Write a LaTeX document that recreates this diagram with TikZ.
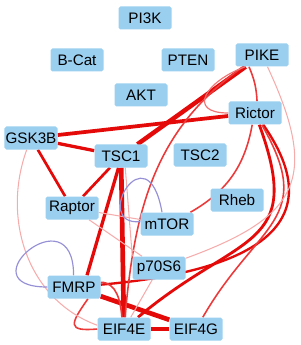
\documentclass[tikz,border=0pt]{standalone}
\usepackage{fontspec}
\setmainfont{Liberation Sans}
\usetikzlibrary{backgrounds}

\definecolor{genefill}{RGB}{155,207,240}
\definecolor{redstrong}{RGB}{228,10,10}
\definecolor{redmid}{RGB}{236,58,58}
\definecolor{redsoft}{RGB}{241,115,115}
\definecolor{redpale}{RGB}{247,172,172}
\definecolor{loopviolet}{RGB}{150,145,215}

\begin{document}
\begin{tikzpicture}[x=0.03cm,y=-0.03cm,
  gene/.style={fill=genefill,rounded corners=1.5pt,minimum width=1.59cm,minimum height=0.69cm,inner sep=0pt,font=\fontsize{13}{15}\selectfont},
  bond/.style={draw=redstrong,line width=#1},
  lnk/.style={draw=redmid,line width=1.35pt},
  softarc/.style={draw=redsoft,line width=1pt},
  pale/.style={draw=redpale,line width=0.9pt},
  selfl/.style={draw=loopviolet,line width=1pt}]
\useasboundingbox (0,0) rectangle (300,345);
\node[gene] (pi3k) at (145,18) {PI3K};
\node[gene] (bcat) at (77,60) {B-Cat};
\node[gene] (pten) at (188,60) {PTEN};
\node[gene] (pike) at (262,55) {PIKE};
\node[gene] (akt) at (141,95) {AKT};
\node[gene] (rictor) at (255,113) {Rictor};
\node[gene] (gsk3b) at (31,138) {GSK3B};
\node[gene] (tsc1) at (121,156) {TSC1};
\node[gene] (tsc2) at (200,155) {TSC2};
\node[gene] (raptor) at (72,208) {Raptor};
\node[gene] (rheb) at (237,200) {Rheb};
\node[gene] (mtor) at (167,224) {mTOR};
\node[gene] (p70s6) at (159,268) {p70S6};
\node[gene] (fmrp) at (74,287) {FMRP};
\node[gene] (eif4e) at (124,329) {EIF4E};
\node[gene] (eif4g) at (196,329) {EIF4G};
\begin{scope}[on background layer]
% heavy links
\draw[bond=3.8pt] (pike) -- (tsc1);
\draw[bond=3.2pt] (rictor) -- (gsk3b);
\draw[bond=2.8pt] (gsk3b) -- (tsc1);
\draw[bond=2.3pt] (gsk3b) -- (raptor);
\draw[bond=2.3pt] (tsc1) -- (raptor);
\draw[bond=4pt] (tsc1) -- (eif4e);
\draw[bond=2.8pt] (tsc1.258) -- (fmrp.42);
\draw[bond=4pt] (fmrp) -- (eif4g);
\draw[bond=2.8pt] (eif4e) -- (eif4g);
\draw[bond=2.4pt] (rictor) to[out=-70,in=40,looseness=1.5] (eif4e);
\draw[bond=2pt] (rictor) to[out=-55,in=5,looseness=1.5] (fmrp);
% lighter links
\draw[lnk] (rictor) to[out=-60,in=60,looseness=1.4] (eif4g);
\draw[lnk] (rictor) to[bend left=25] (mtor);
\draw[lnk] (pike.222) to[bend left=10] (rictor.80);
\draw[lnk] (pike.212) to[out=215,in=85] (eif4e);
\draw[lnk] (fmrp.10) to[out=0,in=95] (eif4e.100);
\draw[lnk] (fmrp.-40) to[out=235,in=185,looseness=2.5] (eif4e.west);
\draw[softarc] (pike.215) to[out=200,in=180,looseness=2.2] (rictor.west);
\draw[pale] (pike) to[out=-65,in=20,looseness=1.5] (p70s6);
\draw[pale] (gsk3b.250) to[out=250,in=160] (eif4e.172);
\draw[pale] (raptor) -- (p70s6);
\draw[pale] (raptor) -- (mtor);
\draw[pale] (tsc1.-70) -- (p70s6.north west);
\draw[pale] (p70s6) -- (eif4e);
% self loops
\draw[selfl] (mtor.113) .. controls +(100:2.55cm) and +(185:1.5cm) .. (mtor.175);
\draw[selfl] (fmrp.92) .. controls +(90:2.5cm) and +(180:2.5cm) .. (fmrp.west);
\end{scope}
\end{tikzpicture}
\end{document}
